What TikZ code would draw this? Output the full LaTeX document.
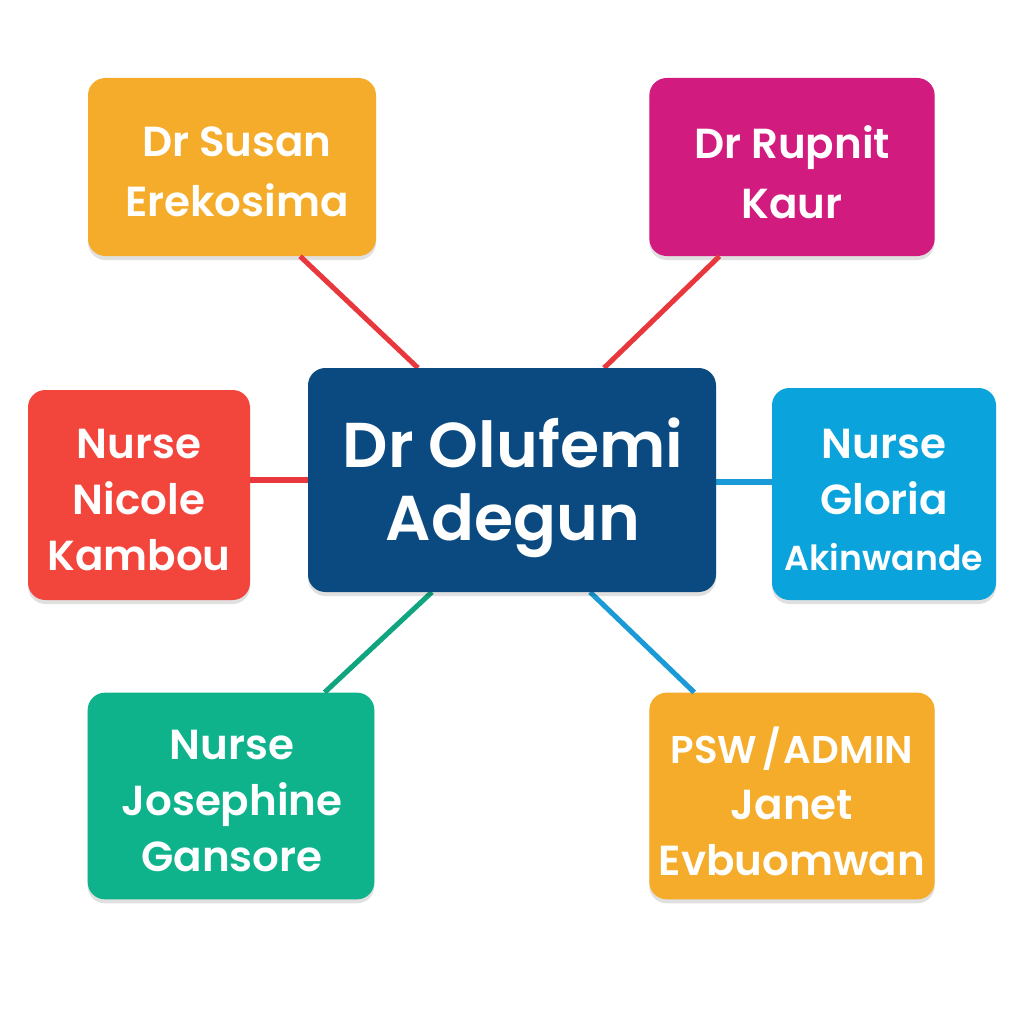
\documentclass[tikz,border=0pt]{standalone}
\usepackage{fontspec}
\setmainfont{Poppins}[BoldFont=Poppins SemiBold]
\usetikzlibrary{calc,shadows}
\definecolor{cOrange}{HTML}{F5AC2A}
\definecolor{cMagenta}{HTML}{D21B7F}
\definecolor{cNavy}{HTML}{0B4A80}
\definecolor{cRed}{HTML}{F2463D}
\definecolor{cSky}{HTML}{0AA3DB}
\definecolor{cGreen}{HTML}{0EB38C}
\definecolor{lRed}{HTML}{E8383D}
\definecolor{lBlue}{HTML}{1A9AD6}
\definecolor{lGreen}{HTML}{11A57F}
\begin{document}
\begin{tikzpicture}[x=0.75pt,y=-0.75pt,
  box/.style={rectangle,rounded corners=13pt,inner sep=0pt,
    drop shadow={shadow xshift=0pt,shadow yshift=-3pt,opacity=0.12,fill=black}},
  txt/.style={inner sep=0pt,align=center,text=white},
  twoline/.style={txt,font=\bfseries\fontsize{31.5}{45}\selectfont},
  threeline/.style={txt,font=\bfseries\fontsize{31.5}{42}\selectfont},
  conn/.style={line width=3.8pt}]
\useasboundingbox (0,0) rectangle (1024,1024);
\fill[white] (0,0) rectangle (1024,1024);
\node[box,fill=cOrange,minimum width=216pt,minimum height=133.5pt] (tl) at (232,167) {};
\node[box,fill=cMagenta,minimum width=214pt,minimum height=133.5pt] (tr) at (792,167) {};
\node[box,fill=cRed,minimum width=166.5pt,minimum height=157.5pt] (l) at (139,495) {};
\node[box,fill=cSky,minimum width=168pt,minimum height=159pt] (r) at (884,494) {};
\node[box,fill=cGreen,minimum width=215pt,minimum height=155pt] (bl) at (231,796) {};
\node[box,fill=cOrange,minimum width=214pt,minimum height=155pt] (br) at (792,796) {};
\draw[conn,lRed] ($(tl.south west)!0.736!(tl.south east)$) -- (418,368) coordinate (ctl);
\draw[conn,lRed] ($(tr.south west)!0.246!(tr.south east)$) -- (604,368) coordinate (ctr);
\draw[conn,lRed] (l.east |- 0,480) coordinate (le) -- (310,480) coordinate (cl);
\draw[conn,lBlue] (r.west |- 0,482) coordinate (re) -- (714,482) coordinate (cr);
\draw[conn,lGreen] ($(bl.north west)!0.826!(bl.north east)$) -- (432,592) coordinate (cbl);
\draw[conn,lBlue] ($(br.north west)!0.158!(br.north east)$) -- (590,592) coordinate (cbr);
\node[box,fill=cNavy,minimum width=306pt,minimum height=168pt] (c) at (512,480) {};
% texts
\node[twoline] (tlt) at (237,172) {Dr Susan\\Erekosima};
\node[twoline] (trt) at (792,172) {Dr Rupnit\\Kaur};
\node[threeline] (lt) at (139,500) {Nurse\\Nicole\\Kambou};
\node[threeline] (rt) at (884,500) {Nurse\\Gloria\\{\fontsize{26}{42}\selectfont Akinwande}};
\node[threeline] (blt) at (232,801) {Nurse\\Josephine\\Gansore};
\node[threeline] (brt) at (792,801) {{\fontsize{29}{42}\selectfont PSW\kern0.12em/\kern0.08em ADMIN}\\Janet\\Evbuomwan};
\node[txt,font=\bfseries\fontsize{47.5}{55}\selectfont] (ct) at (513,488) {Dr Olufemi\\Adegun};
\end{tikzpicture}
\end{document}
